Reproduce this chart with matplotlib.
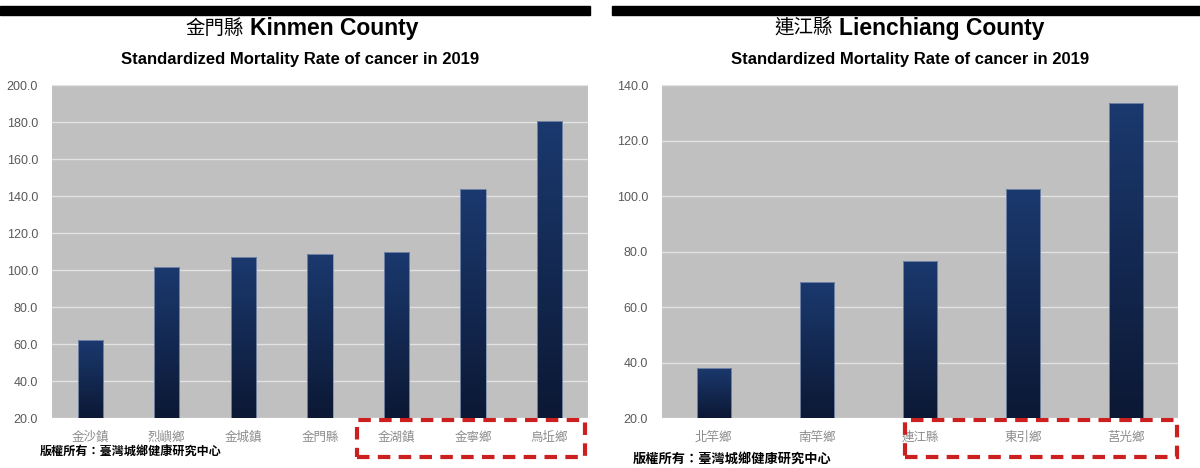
import numpy as np
import matplotlib
matplotlib.use("Agg")
import matplotlib.pyplot as plt
from matplotlib.colors import LinearSegmentedColormap
from matplotlib.patches import Rectangle
import matplotlib.transforms as mtransforms

# data
kinmen_towns = ['金沙鎮', '烈嶼鄉', '金城鎮', '金門縣', '金湖鎮', '金寧鄉', '烏坵鄉']
kinmen_rate = [62.0, 101.8, 107.1, 108.4, 110.0, 143.6, 180.5]
lien_towns = ['北竿鄉', '南竿鄉', '連江縣', '東引鄉', '莒光鄉']
lien_rate = [38.2, 68.9, 76.7, 102.4, 133.7]

subtitle = 'Standardized Mortality Rate of cancer in 2019'
footer = '版權所有：臺灣城鄉健康研究中心'

CJK = ['Noto Sans CJK TC', 'DejaVu Sans']
SANS = ['Liberation Sans', 'DejaVu Sans']

grad_cmap = LinearSegmentedColormap.from_list('navy', ['#0c1834', '#1b3a70'])
grad = np.linspace(0, 1, 256).reshape(-1, 1)

fig = plt.figure(figsize=(12, 4.68), dpi=100)


def panel(rect, names, vals, ymin, ymax, box):
    ax = fig.add_axes(rect)
    ax.set_facecolor('#c0c0c0')
    x = np.arange(len(names))
    vals = np.array(vals)
    bars = ax.bar(x, vals - ymin, bottom=ymin, width=0.33,
                  facecolor='none', edgecolor='#7f90b0', linewidth=0.6, zorder=4)
    for b in bars:
        x0, w = b.get_x(), b.get_width()
        y0, h = b.get_y(), b.get_height()
        im = ax.imshow(grad, extent=[x0 - 0.05, x0 + w + 0.05, y0, y0 + h * 1.02],
                       origin='lower', aspect='auto', cmap=grad_cmap, zorder=3)
        im.set_clip_path(b)
    ax.set_xlim(-0.5, len(names) - 0.5)
    ax.set_ylim(ymin, ymax)
    ax.set_yticks(np.arange(ymin, ymax + 1, 20))
    ax.set_yticklabels([f'{v:.1f}' for v in np.arange(ymin, ymax + 1, 20)],
                       family=SANS, fontsize=9, color='#595959')
    ax.set_xticks(x)
    ax.set_xticklabels(names, family=CJK, fontsize=9, color='#8c8c8c',
                       fontweight='light')
    ax.tick_params(length=0)
    ax.tick_params(axis='y', pad=10)
    ax.tick_params(axis='x', pad=9)
    for s in ax.spines.values():
        s.set_visible(False)
    ax.yaxis.grid(True, color='#e2e2e2', linewidth=1)
    ax.set_axisbelow(True)
    # red dashed highlight box
    trans = mtransforms.blended_transform_factory(ax.transData, ax.transAxes)
    ax.add_patch(Rectangle((box[0], -0.117), box[1] - box[0], 0.111,
                           transform=trans, fill=False, edgecolor='#cc1f1f',
                           linewidth=3, linestyle=(0, (3, 2)), clip_on=False))
    return ax


panel([0.0433, 0.1068, 0.4467, 0.7115], kinmen_towns, kinmen_rate, 20, 200, (3.48, 6.46))
panel([0.5517, 0.1068, 0.43, 0.7115], lien_towns, lien_rate, 20, 140, (1.85, 4.49))

# black header bars
fig.patches.append(Rectangle((0, 0.969), 0.492, 0.019, transform=fig.transFigure,
                             color='black', zorder=0))
fig.patches.append(Rectangle((0.51, 0.969), 0.49, 0.019, transform=fig.transFigure,
                             color='black', zorder=0))

# titles
fig.text(0.203, 0.940, '金門縣', family=CJK, fontsize=14, ha='right', va='center')
fig.text(0.208, 0.940, 'Kinmen County', family=SANS, fontsize=16.5,
         fontweight='bold', ha='left', va='center')
fig.text(0.694, 0.940, '連江縣', family=CJK, fontsize=14, ha='right', va='center')
fig.text(0.699, 0.940, 'Lienchiang County', family=SANS, fontsize=16.5,
         fontweight='bold', ha='left', va='center')

fig.text(0.25, 0.872, subtitle, family=SANS, fontsize=12, fontweight='bold',
         ha='center', va='center')
fig.text(0.758, 0.872, subtitle, family=SANS, fontsize=12, fontweight='bold',
         ha='center', va='center')

fig.text(0.033, 0.034, footer, family=CJK, fontsize=8.7, fontweight='bold',
         ha='left', va='center')
fig.text(0.527, 0.019, footer, family=CJK, fontsize=9.5, fontweight='bold',
         ha='left', va='center')

fig.savefig('out.png', dpi=100)
